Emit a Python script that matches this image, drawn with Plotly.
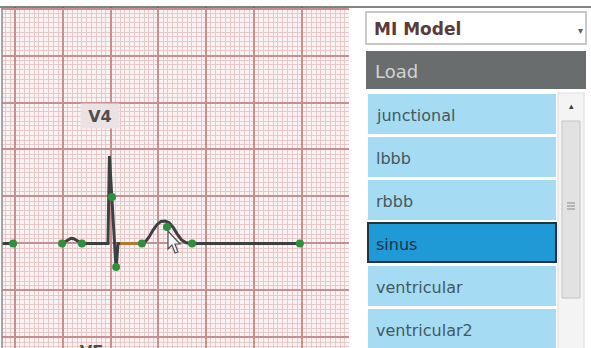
import plotly.graph_objects as go

W, H = 591, 348

# lead V4, one beat: time (s) and amplitude (mV)
ecg_t = [-0.06, -0.008, None,
         0.197, 0.210, 0.222, 0.234, 0.246, 0.258, 0.270, 0.280,
         0.381, 0.389, 0.395, 0.406, 0.423, 0.431,
         0.531, 0.546, 0.561, 0.577, 0.594, 0.611, 0.628, 0.645, 0.662, 0.679, 0.696, 0.714, 0.732,
         1.192]
ecg_mv = [0, 0, None,
          0, 0.02, 0.045, 0.055, 0.05, 0.03, 0.01, 0,
          0, 0, 0.93, 0.495, -0.28, 0,
          0, 0.02, 0.07, 0.14, 0.2, 0.235, 0.24, 0.22, 0.17, 0.1, 0.04, 0.01, 0,
          0]

# editable control points
ctrl_t = [-0.008, 0.197, 0.280, 0.406, 0.423, 0.531, 0.636, 0.741, 1.192]
ctrl_mv = [0, 0, 0, 0.495, -0.25, 0, 0.175, 0, 0]

# highlighted ST segment
st_t = [0.44, 0.525]
st_mv = [0, 0]

lead_name = "V4"
next_lead = "aVF"
model_name = "MI Model"
button_text = "Load"
rhythms = ["junctional", "lbbb", "rbbb", "sinus", "ventricular", "ventricular2"]
selected = "sinus"


def px(x):
    return x / W


def py(y):
    return 1 - y / H


def rect(x0, y0, x1, y1, fill, line=None, lw=0):
    return dict(type="rect", xref="paper", yref="paper",
                x0=px(x0), x1=px(x1), y0=py(y1), y1=py(y0),
                fillcolor=fill, line=dict(color=line or fill, width=lw), layer="above")


def hline(x0, x1, y, color, lw=1):
    return dict(type="line", xref="paper", yref="paper", x0=px(x0), x1=px(x1),
                y0=py(y), y1=py(y), line=dict(color=color, width=lw), layer="above")


def vline(x, y0, y1, color, lw=1):
    return dict(type="line", xref="paper", yref="paper", x0=px(x), x1=px(x),
                y0=py(y0), y1=py(y1), line=dict(color=color, width=lw), layer="above")


def text(x, y, s, size, color, bold=False, anchor="left", **kw):
    return dict(x=px(x), y=py(y), xref="paper", yref="paper", text=f"<b>{s}</b>" if bold else s,
                showarrow=False, xanchor=anchor, yanchor=kw.pop("yanchor", "middle"),
                font=dict(family="DejaVu Sans", size=size, color=color), **kw)


fig = go.Figure()
fig.add_trace(go.Scatter(x=ecg_t, y=ecg_mv, mode="lines",
                         line=dict(color="#3b4040", width=3), hoverinfo="skip"))
fig.add_trace(go.Scatter(x=st_t, y=st_mv, mode="lines",
                         line=dict(color="rgba(215,140,50,0.75)", width=3), hoverinfo="skip"))
fig.add_trace(go.Scatter(x=ctrl_t, y=ctrl_mv, mode="markers",
                         marker=dict(color="#2f8f3c", size=8), hoverinfo="skip"))

shapes = []
# frame lines
shapes.append(hline(0, W, 7, "#5a5a5a", 1.5))
shapes.append(vline(2, 7, H, "#8a8a8a", 1.5))

# combo box
shapes.append(rect(366, 12, 586, 44, "#ffffff", "#b8b8b8", 1.5))
# Load button
shapes.append(rect(366, 51, 586, 89, "#6a6d6d"))
# scrollbar
shapes.append(rect(558, 93, 584, H + 2, "#f4f4f4", "#dcdcdc", 1))
shapes.append(rect(562, 121, 580, 298, "#e2e2e2", "#c4c4c4", 1))
for gy in [203, 206, 209]:
    shapes.append(hline(567, 575, gy, "#8a8a8a", 1))
# cursor
cur = [(168, 231), (168, 249), (172, 245), (175, 253), (178, 252), (175, 244), (180, 244)]
path = "M " + " L ".join(f"{px(x)},{py(y)}" for x, y in cur) + " Z"
shapes.append(dict(type="path", xref="paper", yref="paper", path=path,
                   fillcolor="#f4f4f4", line=dict(color="#505050", width=1.2), layer="above"))

annotations = [
    text(372, 29, model_name, 17, "#5a3a3a", bold=True),
    text(580, 30, "▾", 10, "#606060", anchor="center"),
    text(373, 71, button_text, 18, "#d2d2d2"),
    text(571, 106, "▴", 9, "#404040", anchor="center"),
    dict(x=px(100), y=py(116), xref="paper", yref="paper", text=f"<b>{lead_name}</b>",
         showarrow=False, bgcolor="#ebe3e3", width=36, height=22,
         xanchor="center", yanchor="middle",
         font=dict(family="DejaVu Sans", size=16, color="#4e4e4e")),
    text(86, 340, next_lead, 16, "#4e4e4e", bold=True, anchor="center", yanchor="top"),
]

for i, name in enumerate(rhythms):
    top = 94 + i * 43
    if name == selected:
        shapes.append(rect(368, top, 556, top + 39, "#1f9ad6", "#1f3440", 2))
        col = "#1c3444"
    else:
        shapes.append(rect(368, top, 556, top + 40, "#a6dcf3"))
        col = "#44585f"
    annotations.append(text(374, top + 21, name, 16, col))

fig.update_layout(
    width=W, height=H,
    margin=dict(l=0, r=0, t=0, b=0),
    paper_bgcolor="#ffffff",
    plot_bgcolor="#fbf3f3",
    showlegend=False,
    shapes=shapes,
    annotations=annotations,
    xaxis=dict(domain=[px(2), px(349)], range=[-0.0544, 1.3975],
               tick0=0, dtick=0.2, showgrid=True, gridcolor="#c79090", gridwidth=1.5,
               minor=dict(dtick=0.02, showgrid=True, gridcolor="#e8c9c9", gridwidth=1),
               zeroline=False, showticklabels=False, ticks="", fixedrange=True),
    yaxis=dict(domain=[0, 1 - 7 / H], range=[-1.112, 2.516],
               tick0=0, dtick=0.5, showgrid=True, gridcolor="#c79090", gridwidth=1.5,
               minor=dict(dtick=0.05, showgrid=True, gridcolor="#e8c9c9", gridwidth=1),
               zeroline=False, showticklabels=False, ticks="", fixedrange=True),
)

# page has a default 8px body margin; drop it so the figure fills the window
fig.write_html("out.html", config={"displayModeBar": False},
               post_script="document.body.style.margin='0';document.body.style.overflow='hidden';")
